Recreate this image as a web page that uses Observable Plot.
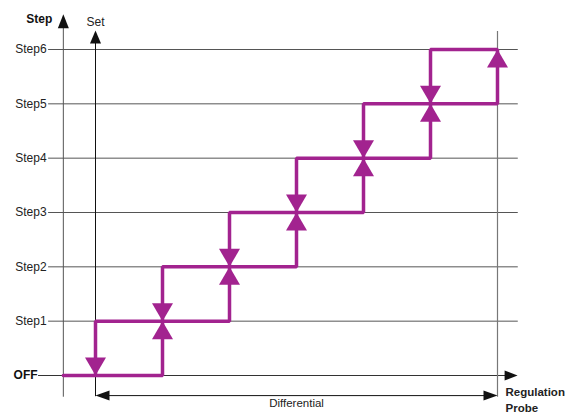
<!DOCTYPE html>
<html><head><meta charset="utf-8">
<script src="https://cdn.jsdelivr.net/npm/d3@7"></script>
<script src="https://cdn.jsdelivr.net/npm/@observablehq/plot@0.6"></script>
<style>
body{margin:0;background:#fff}
svg{font-family:"Liberation Sans",Arial,Helvetica,sans-serif}
</style>
</head><body><div id="chart"></div>
<script>
// ---- data (x in sixths of the differential from the set point, y = step level) ----
const levelLabels = ["OFF", "Step1", "Step2", "Step3", "Step4", "Step5", "Step6"];
const levelValues = [0, 1, 2, 3, 4, 5, 6];
const switchOn  = [1, 2, 3, 4, 5, 6];   // rising: step k switches on here
const switchOff = [0, 1, 2, 3, 4, 5];   // falling: step k switches off here
const setPoint = 0;
const diffEnd = 6;
const axisOrigin = -0.48;   // the vertical "Step" axis
const axisTop = 6.65;       // tip of the Step axis arrow
const setTop = 6.35;        // tip of the Set arrow
const probeEnd = 6.30;      // tip of the regulation-probe axis arrow
const lineBottom = -0.40;   // where the vertical lines stop
const diffY = -0.37;        // the differential arrow

// ---- build the hysteresis loop ----
const loop = [{x: axisOrigin, y: 0}];
switchOn.forEach((x, i) => { loop.push({x, y: i}); loop.push({x, y: i + 1}); });
for (let k = switchOff.length; k >= 1; k--) {
  loop.push({x: switchOff[k - 1], y: k});
  loop.push({x: switchOff[k - 1], y: k - 1});
}
const upTips = switchOn.map((x, i) => ({x, y: i + 1}));
const downTips = switchOff.map((x, i) => ({x, y: i}));

// triangle symbol with its tip at the anchor point
const tri = (dir, w, h) => ({
  draw(ctx) {
    ctx.moveTo(0, 0);
    if (dir === "up")    { ctx.lineTo(w/2, h);  ctx.lineTo(-w/2, h); }
    if (dir === "down")  { ctx.lineTo(w/2, -h); ctx.lineTo(-w/2, -h); }
    if (dir === "right") { ctx.lineTo(-h, w/2); ctx.lineTo(-h, -w/2); }
    if (dir === "left")  { ctx.lineTo(h, w/2);  ctx.lineTo(h, -w/2); }
    ctx.closePath();
  }
});

const purple = "#a2238f";
const gridData = levelValues.map((v, i) => ({v, label: levelLabels[i]}));
const steps = gridData.filter(d => d.v > 0);
const off = gridData.filter(d => d.v === 0);

const chart = Plot.plot({
  width: 579, height: 414,
  marginLeft: 95, marginRight: 82, marginTop: 49, marginBottom: 39,
  x: {domain: [setPoint, diffEnd], axis: null},
  y: {domain: [0, 6], axis: null},
  marks: [
    // grid lines
    Plot.ruleY(steps, {y: "v", x1: -0.70, x2: probeEnd + 0.01, stroke: "#555", strokeWidth: 1}),
    Plot.ruleY(off, {y: "v", x1: -0.85, x2: probeEnd - 0.1, stroke: "#333", strokeWidth: 1}),
    // vertical lines
    Plot.ruleX([axisOrigin], {y1: lineBottom, y2: axisTop - 0.2, stroke: "#555", strokeWidth: 1}),
    Plot.ruleX([setPoint], {y1: lineBottom + 0.01, y2: setTop - 0.2, stroke: "#111", strokeWidth: 1}),
    Plot.ruleX([diffEnd], {y1: lineBottom, y2: 6.33, stroke: "#777", strokeWidth: 1.2}),
    // differential arrow
    Plot.ruleY([diffY], {x1: setPoint + 0.15, x2: diffEnd - 0.15, stroke: "#111", strokeWidth: 1}),
    Plot.dot([{x: setPoint, y: diffY}], {x: "x", y: "y", symbol: tri("left", 10, 14), fill: "#111", stroke: "none"}),
    Plot.dot([{x: diffEnd, y: diffY}], {x: "x", y: "y", symbol: tri("right", 10, 14), fill: "#111", stroke: "none"}),
    // axis arrowheads
    Plot.dot([{x: axisOrigin, y: axisTop}], {x: "x", y: "y", symbol: tri("up", 11, 14), fill: "#111", stroke: "none"}),
    Plot.dot([{x: setPoint, y: setTop}], {x: "x", y: "y", symbol: tri("up", 11, 13), fill: "#111", stroke: "none"}),
    Plot.dot([{x: probeEnd, y: 0}], {x: "x", y: "y", symbol: tri("right", 10, 13), fill: "#111", stroke: "none"}),
    // hysteresis loop
    Plot.line(loop, {x: "x", y: "y", stroke: purple, strokeWidth: 3.5, strokeLinejoin: "miter", curve: "linear"}),
    Plot.dot(upTips, {x: "x", y: "y", symbol: tri("up", 21, 18), fill: purple, stroke: "none"}),
    Plot.dot(downTips, {x: "x", y: "y", symbol: tri("down", 21, 18), fill: purple, stroke: "none"}),
    // labels
    Plot.text(steps, {x: -0.70, y: "v", text: "label", textAnchor: "end", dx: -2, fontSize: 12, fill: "#222"}),
    Plot.text(off, {x: -0.85, y: "v", text: "label", textAnchor: "end", dx: -1, fontSize: 12, fontWeight: "bold", fill: "#111"}),
    Plot.text(["Step"], {x: axisOrigin, y: 6.56, text: d => d, textAnchor: "end", dx: -11, fontSize: 12, fontWeight: "bold", fill: "#111"}),
    Plot.text(["Set"], {x: setPoint, y: 6.50, text: d => d, textAnchor: "start", dx: -9, fontSize: 12, fill: "#222"}),
    Plot.text(["Differential"], {x: (setPoint + diffEnd) / 2, y: -0.52, text: d => d, fontSize: 11.5, fill: "#222"}),
    Plot.text(["Regulation"], {x: diffEnd, y: -0.31, text: d => d, textAnchor: "start", dx: 8, fontSize: 11.5, fontWeight: "bold", fill: "#222"}),
    Plot.text(["Probe"], {x: diffEnd, y: -0.61, text: d => d, textAnchor: "start", dx: 8, fontSize: 11.5, fontWeight: "bold", fill: "#222"})
  ]
});
document.getElementById("chart").append(chart);
</script>
</body></html>
